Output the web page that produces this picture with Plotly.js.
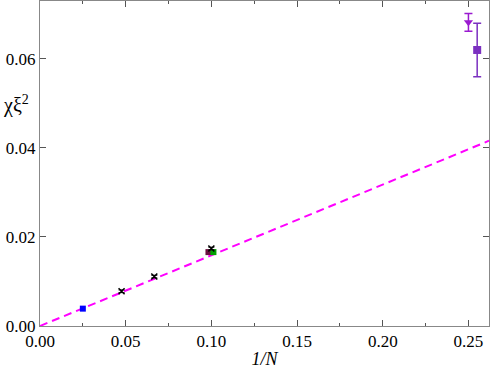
<!DOCTYPE html>
<html>
<head>
<meta charset="utf-8">
<script src="https://cdn.plot.ly/plotly-3.0.1.min.js"></script>
<style>
  body { margin: 0; }
  #plot { width: 491px; height: 369px; }
</style>
</head>
<body>
<div id="plot"></div>
<script>
// values
var blueX = [0.025], blueY = [0.0039];
var blackX = [0.0476, 0.0667, 0.1], blackY = [0.0078, 0.0111, 0.0174], blackErr = [0.0003, 0.0003, 0.0003];
var maroonX = [0.0983], maroonY = [0.0166];
var greenX = [0.1012], greenY = [0.0166];
var triX = [0.25], triY = [0.0682], triErr = [0.002];
var sqX = [0.2551], sqY = [0.062], sqErr = [0.006];
var fitX = [0, 0.262], fitY = [0, 0.0416];

var serif = "'Liberation Serif', 'DejaVu Serif', serif";

var traces = [
  {
    x: fitX, y: fitY, mode: "lines", type: "scatter",
    line: {color: "#ff00ff", width: 2, dash: "8px,5px"}
  },
  {
    x: blueX, y: blueY, mode: "markers", type: "scatter",
    marker: {symbol: "square", size: 6, color: "#0000ff"}
  },
  {
    x: maroonX, y: maroonY, mode: "markers", type: "scatter",
    marker: {symbol: "square", size: 6, color: "#6a1040"}
  },
  {
    x: greenX, y: greenY, mode: "markers", type: "scatter",
    marker: {symbol: "square", size: 6, color: "#00a000"}
  },
  {
    x: blackX, y: blackY, mode: "markers", type: "scatter",
    marker: {symbol: "x-thin", size: 6, color: "#000000", line: {width: 1.5, color: "#000000"}},
    error_y: {type: "data", array: blackErr, color: "#000000", thickness: 1, width: 3}
  },
  {
    x: triX, y: triY, mode: "markers", type: "scatter",
    marker: {symbol: "triangle-down", size: 8, color: "#9a1ad0"},
    error_y: {type: "data", array: triErr, color: "#9a1ad0", thickness: 1.5, width: 4}
  },
  {
    x: sqX, y: sqY, mode: "markers", type: "scatter",
    marker: {symbol: "square", size: 8, color: "#7b30c0"},
    error_y: {type: "data", array: sqErr, color: "#7b30c0", thickness: 1.5, width: 4}
  }
];

var layout = {
  width: 491, height: 369,
  margin: {l: 40, r: 2, t: 1, b: 43},
  showlegend: false,
  paper_bgcolor: "#ffffff",
  plot_bgcolor: "#ffffff",
  font: {family: serif, size: 17, color: "#000000"},
  xaxis: {
    range: [0, 0.262],
    tickvals: [0, 0.05, 0.1, 0.15, 0.2, 0.25],
    ticktext: ["0.00", "0.05", "0.10", "0.15", "0.20", "0.25"],
    tickfont: {family: serif, size: 17},
    ticks: "inside", ticklen: 6, tickcolor: "#555555",
    minor: {dtick: 0.025, ticks: "inside", ticklen: 3, tickcolor: "#555555"},
    showline: true, linecolor: "#888888", linewidth: 1, mirror: "ticks",
    showgrid: false, zeroline: false,
    title: {text: "<i>1/N</i>", font: {family: serif, size: 18}, standoff: 8}
  },
  yaxis: {
    range: [0, 0.073],
    tickvals: [0, 0.02, 0.04, 0.06],
    ticktext: ["0.00", "0.02", "0.04", "0.06"],
    tickfont: {family: serif, size: 17},
    ticks: "inside", ticklen: 6, tickcolor: "#555555",
    showline: true, linecolor: "#888888", linewidth: 1, mirror: "ticks",
    showgrid: false, zeroline: false
  },
  annotations: [{
    text: "χξ<sup>2</sup>", xref: "paper", yref: "paper",
    x: -0.087, y: 0.68, xanchor: "left", yanchor: "middle",
    showarrow: false, font: {family: serif, size: 20}
  }]
};

Plotly.newPlot("plot", traces, layout, {displayModeBar: false});
</script>
</body>
</html>
